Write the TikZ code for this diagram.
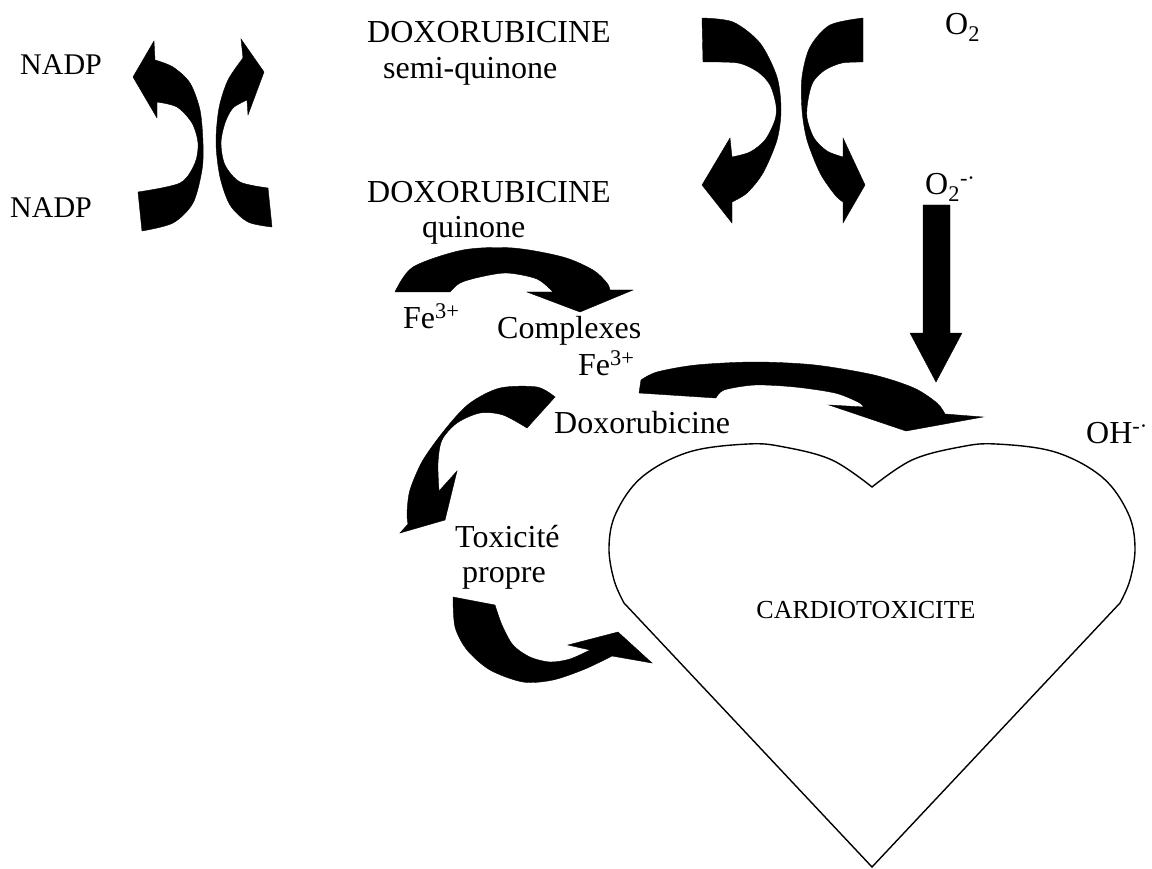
\documentclass[tikz,border=0pt]{standalone}
\usepackage{fontspec}
\setmainfont{Liberation Serif}
\begin{document}
\begin{tikzpicture}[x=1pt,y=-1pt,
  lbl/.style={inner sep=0pt, anchor=base west, font=\fontsize{32}{36}\selectfont},
  blockarrow/.style={fill=black, draw=black, line width=0.4pt, line join=miter},
  heartline/.style={draw=black, line width=1.4pt, line join=miter}]
\useasboundingbox (0,0) rectangle (1152,869);

% ---- labels ----
\node[lbl, font=\fontsize{30}{34}\selectfont] (nadpA) at (20,75) {NADP};
\node[lbl, font=\fontsize{30}{34}\selectfont] (nadpB) at (10,218) {NADP};
\node[lbl] (doxA) at (367,43) {DOXORUBICINE};
\node[lbl] (semi) at (383,79) {semi-quinone};
\node[lbl] (doxB) at (367,203) {DOXORUBICINE};
\node[lbl] (quin) at (422,238) {quinone};
\node[lbl] (oxA) at (945,35) {O\textsubscript{2}};
\node[lbl] (oxB) at (925,195) {O\textsubscript{2}\textsuperscript{-·}};
\node[lbl] (feA) at (403,328) {Fe\textsuperscript{3+}};
\node[lbl] (cplx) at (497,338) {Complexes};
\node[lbl] (feB) at (578,375) {Fe\textsuperscript{3+}};
\node[lbl] (doxC) at (554,433) {Doxorubicine};
\node[lbl] (toxA) at (455,547) {Toxicité};
\node[lbl] (toxB) at (462,582) {propre};
\node[lbl] (oh) at (1086,443) {OH\textsuperscript{-·}};

% ---- heart ----
\draw[heartline] (872,487)
  -- plot[smooth, tension=0.6] coordinates {(872,487) (832,460) (784,447) (748,444) (689,452) (642,477) (616,513) (609,547) (614,580) (624,603)}
  -- (872,867)
  -- plot[smooth, tension=0.6] coordinates {(1120,603) (1130,580) (1135,547) (1128,513) (1102,477) (1055,452) (996,444) (960,447) (912,460) (872,487)}
  -- cycle;
\node[inner sep=0pt, anchor=base, font=\fontsize{26}{30}\selectfont] (cardio) at (866,618) {CARDIOTOXICITE};

% ---- NADP pair ----
\fill[blockarrow] (138,192) -- (142,231)
  -- plot[smooth] coordinates {(142,231) (173,223) (193,203) (202,170) (203,143) (200,110) (190,83) (173,67) (155,60)}
  -- (154,41) -- (133,77) -- (157,118)
  -- plot[smooth] coordinates {(157,102) (177,107) (192,123) (198,143) (195,163) (180,183) (138,192)}
  -- cycle;
\fill[blockarrow] (268,188) -- (272,227)
  -- plot[smooth] coordinates {(272,227) (248,222) (230,205) (220,177) (216,143) (219,108) (228,80) (243,58)}
  -- (241,39) -- (264,72) -- (248,115)
  -- plot[smooth] coordinates {(247,100) (233,108) (225,123) (221,143) (225,165) (240,182) (268,188)}
  -- cycle;

% ---- O2 pair ----
\fill[blockarrow] (702,18)
  -- plot[smooth] coordinates {(702,18) (733,22) (760,43) (777,77) (781,110) (777,140) (763,173) (747,193) (732,202)}
  -- (732,223) -- (702,185) -- (730,138)
  -- plot[smooth] coordinates {(732,157) (750,152) (765,140) (775,120) (776,105) (770,85) (758,72) (738,63) (703,62)}
  -- cycle;
\fill[blockarrow] (863,18)
  -- plot[smooth] coordinates {(863,18) (830,25) (810,47) (802,77) (802,110) (807,140) (820,173) (835,195) (843,202)}
  -- (843,223) -- (865,185) -- (843,138)
  -- plot[smooth] coordinates {(843,157) (827,151) (814,138) (807,118) (808,100) (813,82) (825,70) (842,63) (863,62)}
  -- cycle;

% ---- superoxide down arrow ----
\fill[blockarrow] (923,205) -- (950,205) -- (950,333) -- (962,333) -- (936,382) -- (910,333) -- (923,333) -- cycle;

% ---- quinone to complexes ----
\fill[blockarrow] (395,292)
  -- plot[smooth] coordinates {(395,292) (413,267) (463,250) (513,248) (563,257) (593,270) (607,283) (610,290)}
  -- (633,290) -- (580,312) -- (527,292)
  -- plot[smooth] coordinates {(553,292) (537,279) (507,273) (480,277) (460,283) (450,292)}
  -- cycle;

% ---- complexes to heart ----
\fill[blockarrow] (639,393) -- (716,398)
  -- plot[smooth] coordinates {(716,398) (724,390) (755,385) (795,387) (835,393) (858,402) (864,407)}
  -- (829,405) -- (906,431) -- (983,417)
  -- plot[smooth] coordinates {(945,414) (937,403) (914,388) (874,375) (815,365) (755,362) (696,365) (657,372) (641,380)}
  -- cycle;

% ---- doxorubicine to own toxicity ----
\fill[blockarrow] (555,397)
  -- plot[smooth] coordinates {(555,397) (537,387) (500,388) (470,403) (447,427) (423,460) (410,490) (407,513) (408,524)}
  -- (400,533) -- (445,520) -- (457,471)
  -- plot[smooth] coordinates {(439,491) (438,463) (442,440) (457,423) (480,413) (503,415) (527,428)}
  -- cycle;

% ---- own toxicity to heart ----
\fill[blockarrow] (453,597)
  -- plot[smooth] coordinates {(453,597) (455,627) (467,650) (490,670) (523,682) (553,680) (585,669) (612,656)}
  -- (652,663) -- (618,632) -- (568,645)
  -- plot[smooth] coordinates {(590,650) (570,659) (550,662) (530,657) (513,645) (502,625) (495,605)}
  -- cycle;
\end{tikzpicture}
\end{document}
